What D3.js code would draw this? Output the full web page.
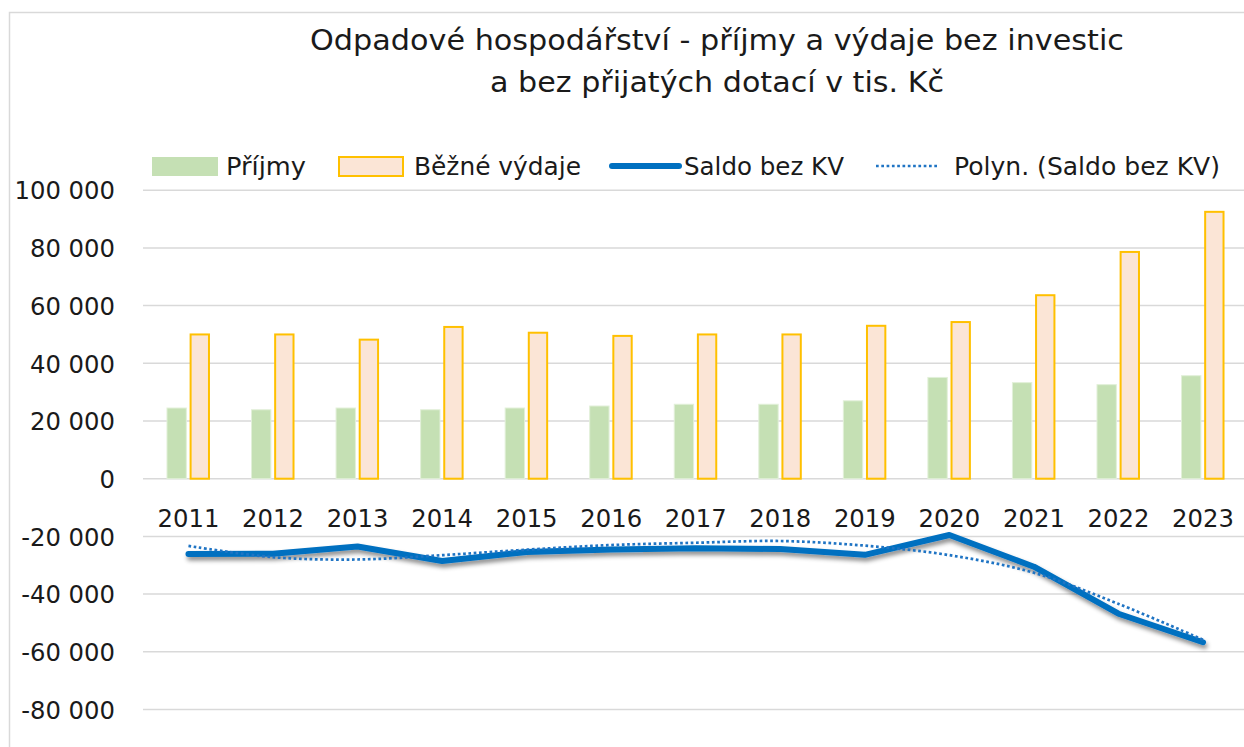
<!DOCTYPE html>
<html lang="cs">
<head>
<meta charset="utf-8">
<title>Odpadové hospodářství</title>
<script src="https://cdn.jsdelivr.net/npm/d3@7"></script>
<style>
  html, body { margin: 0; padding: 0; background: #ffffff; }
  svg { display: block; font-family: "DejaVu Sans", Verdana, sans-serif; }
</style>
</head>
<body>
<svg id="chart" width="1244" height="747"></svg>
<script>
// Roky a hodnoty v tis. Kč
const years = ["2011","2012","2013","2014","2015","2016","2017","2018","2019","2020","2021","2022","2023"];
const prijmy = [24500, 23900, 24500, 23900, 24500, 25200, 25800, 25800, 27000, 35100, 33300, 32600, 35700];
const bezneVydaje = [50000, 50000, 48200, 52600, 50600, 49500, 50000, 50000, 53000, 54300, 63600, 78600, 92500];
const saldoBezKV = [-26100, -26000, -23500, -28500, -25400, -24500, -24100, -24400, -26400, -19500, -30500, -46800, -56700];
const polynSaldo = [-23300, -27200, -28000, -26500, -24600, -23000, -22200, -21600, -23200, -26500, -32600, -43400, -55800];
const yTicks = [-80000, -60000, -40000, -20000, 0, 20000, 40000, 60000, 80000, 100000];

const titleLines = ["Odpadové hospodářství - příjmy a výdaje bez investic", "a bez přijatých dotací v tis. Kč"];
const legendLabels = ["Příjmy", "Běžné výdaje", "Saldo bez KV", "Polyn. (Saldo bez KV)"];

const svg = d3.select("#chart");
const W = 1244, H = 747;

const colors = {
  prijmy: "#C5E0B4",
  prijmyEdge: "#E2F0D9",
  vydaje: "#FBE5D6",
  vydajeEdge: "#FFC000",
  saldo: "#0070C0",
  trend: "#1F74C4",
  grid: "#D9D9D9",
  text: "#1a1a1a"
};

// Drop shadow under the balance line
const defs = svg.append("defs");
const shadow = defs.append("filter").attr("id", "lineShadow")
  .attr("x", "-5%").attr("y", "-50%").attr("width", "110%").attr("height", "200%");
shadow.append("feDropShadow")
  .attr("dx", 1.5).attr("dy", 3.5).attr("stdDeviation", 2.2)
  .attr("flood-color", "#000").attr("flood-opacity", 0.45);

// Outer frame (left and top edges visible)
svg.append("path")
  .attr("d", `M9.5,${H} L9.5,12.5 L${W},12.5`)
  .attr("fill", "none").attr("stroke", colors.grid).attr("stroke-width", 1.5);

// Scales
const x = d3.scaleBand().domain(years).range([146.2, 1245.3]).padding(0);
const series = ["prijmy", "vydaje"];
const x1 = d3.scaleBand().domain(series).range([-21.5, 21.5]).paddingInner(0.1);
const y = d3.scaleLinear().domain([-80000, 100000]).range([709.5, 190.2]);
const cx = d => x(d) + x.bandwidth() / 2;

// Gridlines
svg.append("g").selectAll("line").data(yTicks).join("line")
  .attr("x1", 143).attr("x2", W)
  .attr("y1", d => y(d)).attr("y2", d => y(d))
  .attr("stroke", colors.grid).attr("stroke-width", 1.5);

// Y axis labels
const fmt = v => d3.format(",")(v).replace(/,/g, " ").replace("−", "-");
const yAxis = d3.axisLeft(y).tickValues(yTicks).tickFormat(fmt).tickSize(0).tickPadding(0);
const gy = svg.append("g").attr("transform", "translate(115,0)").call(yAxis);
gy.select(".domain").remove();
gy.selectAll("text")
  .attr("font-family", "DejaVu Sans, Verdana, sans-serif")
  .attr("font-size", 24.3).attr("fill", colors.text).attr("dy", "0.36em");

// Bars
const barData = years.map((yr, i) => ({ yr, prijmy: prijmy[i], vydaje: bezneVydaje[i] }));
const gBars = svg.append("g");
gBars.selectAll("rect.prijmy").data(barData).join("rect")
  .attr("class", "prijmy")
  .attr("x", d => cx(d.yr) + x1("prijmy"))
  .attr("width", x1.bandwidth() - 1)
  .attr("y", d => y(d.prijmy))
  .attr("height", d => y(0) - y(d.prijmy))
  .attr("fill", colors.prijmy)
  .attr("stroke", colors.prijmyEdge).attr("stroke-width", 1);
gBars.selectAll("rect.vydaje").data(barData).join("rect")
  .attr("class", "vydaje")
  .attr("x", d => cx(d.yr) + x1("vydaje") + 1)
  .attr("width", x1.bandwidth() - 2)
  .attr("y", d => y(d.vydaje))
  .attr("height", d => y(0) - y(d.vydaje))
  .attr("fill", colors.vydaje)
  .attr("stroke", colors.vydajeEdge).attr("stroke-width", 2);

// Category labels just below the zero line
svg.append("g").selectAll("text").data(years).join("text")
  .attr("x", d => cx(d)).attr("y", y(0) + 48)
  .attr("text-anchor", "middle")
  .attr("font-size", 24.3).attr("fill", colors.text)
  .text(d => d);

// Balance line
const saldoLine = d3.line().x((d, i) => cx(years[i])).y(d => y(d));
svg.append("path")
  .datum(saldoBezKV)
  .attr("d", saldoLine)
  .attr("fill", "none")
  .attr("stroke", colors.saldo).attr("stroke-width", 6)
  .attr("stroke-linejoin", "round").attr("stroke-linecap", "round")
  .attr("filter", "url(#lineShadow)");

// Polynomial trend (dotted)
const trendLine = d3.line().x((d, i) => cx(years[i])).y(d => y(d)).curve(d3.curveCatmullRom.alpha(0.5));
svg.append("path")
  .datum(polynSaldo)
  .attr("d", trendLine)
  .attr("fill", "none")
  .attr("stroke", colors.trend).attr("stroke-width", 2.7)
  .attr("stroke-dasharray", "2.7 2.6");

// Title
svg.append("g").selectAll("text").data(titleLines).join("text")
  .attr("x", 717).attr("y", (d, i) => i === 0 ? 50 : 92)
  .attr("text-anchor", "middle")
  .attr("font-size", 29).attr("fill", colors.text)
  .attr("textLength", (d, i) => i === 0 ? 814 : 454)
  .attr("lengthAdjust", "spacingAndGlyphs")
  .text(d => d);

// Legend
const lg = svg.append("g");
const legendY = 166;
lg.append("rect").attr("x", 152).attr("y", 157).attr("width", 66).attr("height", 19)
  .attr("fill", colors.prijmy);
lg.append("rect").attr("x", 339).attr("y", 157).attr("width", 64).attr("height", 19)
  .attr("fill", colors.vydaje).attr("stroke", colors.vydajeEdge).attr("stroke-width", 2);
lg.append("line").attr("x1", 612).attr("x2", 679).attr("y1", legendY).attr("y2", legendY)
  .attr("stroke", colors.saldo).attr("stroke-width", 6).attr("stroke-linecap", "round");
lg.append("line").attr("x1", 876).attr("x2", 937).attr("y1", legendY).attr("y2", legendY)
  .attr("stroke", colors.trend).attr("stroke-width", 2.7).attr("stroke-dasharray", "2.7 2.6");
const legendX = [226, 414, 684, 954];
const legendW = [80, 167, 160, 266];
lg.selectAll("text").data(legendLabels).join("text")
  .attr("x", (d, i) => legendX[i]).attr("y", 175)
  .attr("font-size", 24.8).attr("fill", colors.text)
  .attr("textLength", (d, i) => legendW[i])
  .attr("lengthAdjust", "spacingAndGlyphs")
  .text(d => d);
</script>
</body>
</html>
